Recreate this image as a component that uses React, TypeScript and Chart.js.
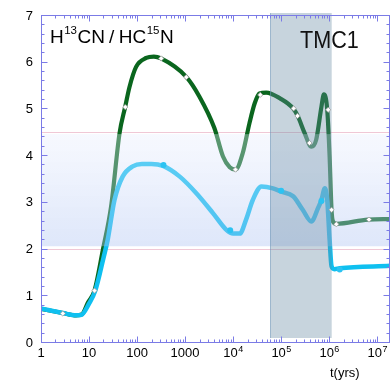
import React, { useEffect, useRef } from "react";
import { Chart, registerables } from "chart.js";
Chart.register(...registerables);

// time (yrs) and ratio values
const greenT = [1, 2.84, 5.37, 7.08, 9.44, 13.0, 19.5, 28.8, 43.2, 56.8, 69.2, 95.5, 155, 224, 316, 1047, 1995, 4074, 6166, 8511, 11220, 15850, 21880, 28180, 35480, 48980, 93330, 177800, 223900, 309000, 426600, 537000, 691800, 776200, 912000, 1023000, 1122000, 1202000, 1413000, 6457000, 18500000];
const greenR = [0.71, 0.62, 0.57, 0.59, 0.84, 1.10, 1.98, 2.90, 4.47, 5.04, 5.45, 5.89, 6.08, 6.11, 6.07, 5.68, 5.25, 4.58, 3.97, 3.74, 3.69, 4.04, 4.68, 5.11, 5.32, 5.34, 5.22, 5.00, 4.83, 4.47, 4.18, 4.33, 5.04, 5.30, 4.97, 3.97, 2.83, 2.58, 2.53, 2.62, 2.63];

const blueT = [1, 2.84, 5.37, 6.92, 10, 13.5, 20, 24.5, 33.9, 50.1, 81.3, 126, 200, 347, 776, 1698, 3802, 7244, 10000, 13800, 18620, 25700, 38900, 67600, 100000, 177800, 281800, 426600, 588800, 691800, 812800, 912000, 1023000, 1122000, 1288000, 1660000, 18500000];
const blueR = [0.72, 0.62, 0.57, 0.58, 0.82, 1.10, 1.80, 2.19, 3.04, 3.54, 3.76, 3.81, 3.81, 3.77, 3.54, 3.19, 2.76, 2.40, 2.32, 2.32, 2.62, 3.04, 3.33, 3.29, 3.22, 3.12, 2.83, 2.58, 2.87, 3.04, 3.29, 3.04, 2.19, 1.62, 1.56, 1.58, 1.63];

const greenMarkT = [2.84, 13.0, 56.8, 319, 1059, 11220, 36800, 182000, 219000, 389000, 955000, 1122000, 1413000, 6760000];
const greenMarkR = [0.61, 1.10, 5.03, 6.07, 5.67, 3.69, 5.29, 5.00, 4.84, 4.26, 4.97, 2.83, 2.52, 2.62];
const blueMarkT = [355, 8710, 100000, 692000, 1660000];
const blueMarkR = [3.79, 2.39, 3.24, 3.02, 1.55];

const yTicks = [0, 1, 2, 3, 4, 5, 6, 7];
const xDecades = [0, 1, 2, 3, 4, 5, 6, 7];
const xPlainLabels = ["1", "10", "100", "1000"];

const pinkLines = [2, 4.5];
const shadeRange = [2.05, 4.45];
const tmcRange = [59000, 1130000];

const X_MIN = 1;
const X_MAX = 18500000;

const toPts = (xs: number[], ys: number[]) => xs.map((x, i) => ({ x, y: ys[i] }));

const AXIS = "#7b7be6";
const FONT = "'Liberation Sans', Arial, Helvetica, sans-serif";

const overlay = {
  id: "overlay",
  beforeDatasetsDraw(chart: any) {
    const { ctx, chartArea: a, scales } = chart;
    const y = scales.y;
    ctx.save();
    ctx.strokeStyle = "#f0c8d6";
    ctx.lineWidth = 1;
    for (const v of pinkLines) {
      const py = Math.round(y.getPixelForValue(v)) + 0.5;
      ctx.beginPath();
      ctx.moveTo(a.left, py);
      ctx.lineTo(a.right, py);
      ctx.stroke();
    }
    ctx.restore();
  },
  afterDatasetDraw(chart: any, args: any) {
    if (args.index !== 2) return;
    const { ctx, chartArea: a, scales } = chart;
    const x = scales.x;
    const y = scales.y;
    ctx.save();
    const top = y.getPixelForValue(shadeRange[1]);
    const bot = y.getPixelForValue(shadeRange[0]);
    const g = ctx.createLinearGradient(0, top, 0, bot);
    g.addColorStop(0, "rgba(232,238,254,0.36)");
    g.addColorStop(1, "rgba(172,194,242,0.40)");
    ctx.fillStyle = g;
    ctx.fillRect(a.left, top, a.right - a.left, bot - top);
    // TMC1 band
    const l = x.getPixelForValue(tmcRange[0]);
    const r = x.getPixelForValue(tmcRange[1]);
    ctx.fillStyle = "rgba(100,135,160,0.36)";
    ctx.fillRect(l, a.top - 2, r - l, a.bottom - a.top - 2);
    ctx.strokeStyle = "rgba(110,150,185,0.5)";
    ctx.beginPath();
    ctx.moveTo(Math.round(l) + 0.5, a.top - 2);
    ctx.lineTo(Math.round(l) + 0.5, a.bottom - 4);
    ctx.stroke();
    ctx.restore();
  },
  afterDraw(chart: any) {
    const { ctx, chartArea: a, scales } = chart;
    const x = scales.x;
    const y = scales.y;
    ctx.save();
    ctx.strokeStyle = AXIS;
    ctx.lineWidth = 1;
    const L = Math.round(a.left) + 0.5;
    const R = Math.round(a.right) - 0.5;
    const T = Math.round(a.top) + 0.5;
    const B = Math.round(a.bottom) + 0.5;
    ctx.strokeRect(L, T, R - L, B - T);
    ctx.beginPath();
    for (let i = 0; i <= 35; i++) {
      const v = i / 5;
      const py = Math.round(y.getPixelForValue(v)) + 0.5;
      const len = i % 5 === 0 ? 6 : 3;
      ctx.moveTo(L, py);
      ctx.lineTo(L + len, py);
      ctx.moveTo(R, py);
      ctx.lineTo(R - len, py);
    }
    for (const d of xDecades) {
      for (let k = 1; k <= 9; k++) {
        const v = k * Math.pow(10, d);
        if (v > X_MAX) continue;
        const px = Math.round(x.getPixelForValue(v)) + 0.5;
        const len = k === 1 ? 6 : 3;
        ctx.moveTo(px, T);
        ctx.lineTo(px, T + len);
        ctx.moveTo(px, B);
        ctx.lineTo(px, B - len);
      }
    }
    ctx.stroke();

    ctx.fillStyle = "#000";
    ctx.font = `13px ${FONT}`;
    ctx.textAlign = "right";
    ctx.textBaseline = "middle";
    for (const v of yTicks) {
      ctx.fillText(String(v), a.left - 8, y.getPixelForValue(v) + 1);
    }
    ctx.textBaseline = "alphabetic";
    const base = 357;
    for (const d of xDecades) {
      const px = x.getPixelForValue(Math.pow(10, d));
      if (d < xPlainLabels.length) {
        ctx.font = `13px ${FONT}`;
        ctx.textAlign = "center";
        ctx.fillText(xPlainLabels[d], px, base);
      } else {
        ctx.font = `13px ${FONT}`;
        const w1 = ctx.measureText("10").width;
        ctx.font = `9px ${FONT}`;
        const w2 = ctx.measureText(String(d)).width;
        const start = px - (w1 + w2) / 2;
        ctx.textAlign = "left";
        ctx.font = `13px ${FONT}`;
        ctx.fillText("10", start, base);
        ctx.font = `9px ${FONT}`;
        ctx.fillText(String(d), start + w1 + 0.5, base - 5);
      }
    }
    ctx.textAlign = "left";
    ctx.font = `13px ${FONT}`;
    ctx.fillText("t(yrs)", 330, 377);

    // title, drawn piece by piece
    const big = `19px ${FONT}`;
    const small = `11.5px ${FONT}`;
    const piece = (txt: string, font: string, px: number, py: number) => {
      ctx.font = font;
      ctx.fillText(txt, px, py);
      return px + ctx.measureText(txt).width;
    };
    let cx = piece("H", big, 50, 43);
    cx = piece("13", small, cx + 0.5, 34);
    cx = piece("CN", big, cx + 0.5, 43);
    cx = piece("/", big, cx + 4, 43);
    cx = piece("HC", big, cx + 4.5, 43);
    cx = piece("15", small, cx + 0.5, 34);
    piece("N", big, cx + 0.5, 43);

    // TMC1
    ctx.save();
    ctx.translate(300, 48);
    ctx.scale(0.9, 1);
    ctx.font = `24px ${FONT}`;
    ctx.fillStyle = "#111";
    ctx.fillText("TMC1", 0, 0);
    ctx.restore();
    ctx.restore();
  },
};

export default function App() {
  const ref = useRef<HTMLCanvasElement | null>(null);
  useEffect(() => {
    if (!ref.current) return;
    const chart = new Chart(ref.current, {
      type: "line",
      data: {
        datasets: [
          {
            label: "green markers",
            data: toPts(greenMarkT, greenMarkR),
            showLine: false,
            pointStyle: "rectRot",
            pointRadius: 2.6,
            pointBackgroundColor: "#ffffff",
            pointBorderColor: "#9a9a9a",
            pointBorderWidth: 0.8,
          },
          {
            label: "blue markers",
            data: toPts(blueMarkT, blueMarkR),
            showLine: false,
            pointStyle: "circle",
            pointRadius: 3,
            pointBackgroundColor: "#2cc3f2",
            pointBorderWidth: 0,
          },
          {
            label: "blue",
            data: toPts(blueT, blueR),
            borderColor: "#0fc0f0",
            borderWidth: 4.5,
            pointRadius: 0,
            cubicInterpolationMode: "monotone",
            fill: false,
          },
          {
            label: "green",
            data: toPts(greenT, greenR),
            borderColor: "#0a661e",
            borderWidth: 4.2,
            pointRadius: 0,
            cubicInterpolationMode: "monotone",
            fill: false,
          },
        ],
      },
      options: {
        animation: false,
        responsive: false,
        maintainAspectRatio: false,
        layout: { autoPadding: false, padding: { left: 41, right: 1, top: 15, bottom: 40 } },
        plugins: { legend: { display: false }, tooltip: { enabled: false } },
        scales: {
          x: { type: "logarithmic", min: X_MIN, max: X_MAX, display: false },
          y: { type: "linear", min: 0, max: 7, display: false },
        },
      },
      plugins: [overlay],
    });
    return () => chart.destroy();
  }, []);
  return (
    <div style={{ position: "fixed", left: 0, top: 0, width: 391, height: 382, background: "#fff" }}>
      <canvas ref={ref} width={391} height={382} />
    </div>
  );
}
